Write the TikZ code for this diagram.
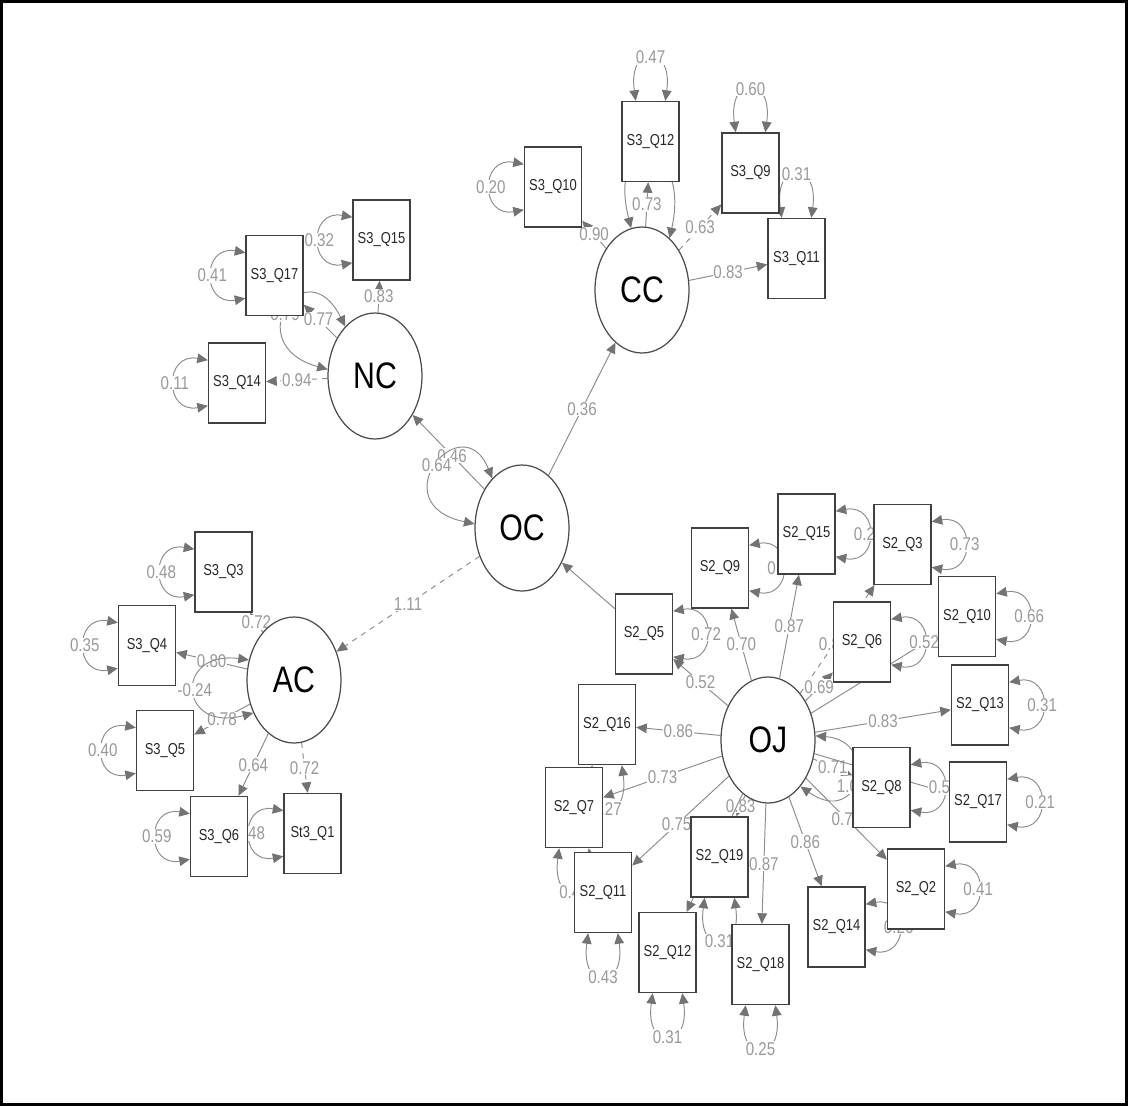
\documentclass[tikz,border=0pt]{standalone}
\usepackage{fontspec}
\setmainfont{Liberation Sans}[FakeStretch=0.82]
\usetikzlibrary{arrows.meta,shapes.geometric}
\pgfdeclarelayer{bg}
\pgfsetlayers{bg,main}
\definecolor{edgegray}{gray}{0.55}
\definecolor{tipgray}{gray}{0.45}
\definecolor{labelgray}{gray}{0.6}
\definecolor{boxgray}{gray}{0.25}
\definecolor{boxtext}{gray}{0.15}
\definecolor{latentgray}{gray}{0.3}
\tikzset{
  latent/.style={draw=latentgray, ellipse, line width=0.7pt, fill=white, minimum width=1.88cm, minimum height=2.52cm, inner sep=1pt, font=\fontsize{21}{22}\selectfont},
  manifest/.style={draw=boxgray, rectangle, line width=0.8pt, fill=white, minimum width=1.14cm, minimum height=1.6cm, inner sep=1pt, text=boxtext, font=\fontsize{9}{10}\selectfont},
  loading/.style={draw=edgegray, line width=0.55pt, -{Triangle[length=6pt,width=5.5pt,color=tipgray]}},
  varloop/.style={draw=edgegray, line width=0.55pt, {Triangle[length=6pt,width=5.5pt,color=tipgray]}-{Triangle[length=6pt,width=5.5pt,color=tipgray]}},
  lbl/.style={fill=white, inner sep=0.5pt, text=labelgray, font=\fontsize{10.5}{11}\selectfont}
}

\begin{document}
\begin{tikzpicture}[x=0.02cm, y=-0.02cm]
  \useasboundingbox (0,0) rectangle (1128,1106);
  \draw[line width=1.2pt] (1.5,1.5) rectangle (1126.5,1104.5);

  % latent factors
  \node[latent] (nc) at (375,376) {NC};
  \node[latent] (cc) at (642,290) {CC};
  \node[latent] (oc) at (522,528) {OC};
  \node[latent] (ac) at (294,680) {AC};
  \node[latent] (oj) at (768,740) {OJ};

  % observed items
  \foreach \n/\x/\y/\t in {s3q17/274.5/275.5/S3\_Q17, s3q15/381.5/240/S3\_Q15, s3q14/237/383/S3\_Q14,
      s3q10/553/187/S3\_Q10, s3q12/650.5/141.5/S3\_Q12, s3q9/750.5/173/S3\_Q9, s3q11/796.5/258.5/S3\_Q11,
      s3q3/223.5/572/S3\_Q3, s3q4/147/645.5/S3\_Q4, s3q5/165/750.5/S3\_Q5, s3q6/219/836.5/S3\_Q6, st3q1/312.5/833.5/St3\_Q1,
      s2q5/644/634/S2\_Q5, s2q9/720/568/S2\_Q9, s2q15/806.5/534/S2\_Q15, s2q3/902.5/544.5/S2\_Q3,
      s2q6/862/642/S2\_Q6, s2q10/967/616.5/S2\_Q10, s2q13/980/705/S2\_Q13, s2q16/607/724.5/S2\_Q16,
      s2q7/574/807.5/S2\_Q7, s2q8/881.5/787.5/S2\_Q8, s2q17/978/802/S2\_Q17, s2q11/603/892.5/S2\_Q11,
      s2q19/719.5/857/S2\_Q19, s2q12/667.5/952.5/S2\_Q12, s2q18/760.5/964.5/S2\_Q18,
      s2q14/836.5/927/S2\_Q14, s2q2/916/889/S2\_Q2}
    \node[manifest] (\n) at (\x,\y) {\t};

  \begin{pgfonlayer}{bg}
    % structural part
    \draw[loading] (oc) -- node[lbl]{0.36} (cc);
    \draw[loading] (oc) -- node[lbl,pos=0.45]{0.46} (nc);
    \draw[loading,dashed] (oc) -- node[lbl]{1.11} (ac);
    \draw[loading] (s2q5) -- (oc);

    % loadings
    \draw[loading] (nc) -- node[lbl]{0.83} (s3q15);
    \draw[loading] (nc) -- node[lbl,pos=0.55]{0.77} (s3q17);
    \draw[loading,dashed] (nc) -- node[lbl]{0.94} (s3q14);
    \draw[loading] (cc) -- node[lbl]{0.90} (s3q10);
    \draw[loading] (cc) -- node[lbl]{0.73} (s3q12);
    \draw[loading,dashed] (cc) -- node[lbl]{0.63} (s3q9);
    \draw[loading] (cc) -- node[lbl]{0.83} (s3q11);
    \draw[loading] (ac) -- node[lbl]{0.72} (s3q3);
    \draw[loading] (ac) -- node[lbl]{0.80} (s3q4);
    \draw[loading] (ac) -- node[lbl]{0.78} (s3q5);
    \draw[loading] (ac) -- node[lbl]{0.64} (s3q6);
    \draw[loading,dashed] (ac) -- node[lbl]{0.72} (st3q1);
    \draw[loading] (oj) -- node[lbl]{0.52} (s2q5);
    \draw[loading] (oj) -- node[lbl]{0.70} (s2q9);
    \draw[loading] (oj) -- node[lbl]{0.87} (s2q15);
    \draw[loading,dashed] (oj) -- node[lbl,pos=0.45]{0.85} (s2q3);
    \draw[loading] (oj) -- node[lbl]{0.69} (s2q6);
    \draw[loading] (oj) -- (s2q10);
    \draw[loading] (oj) -- node[lbl]{0.83} (s2q13);
    \draw[loading] (oj) -- node[lbl]{0.71} (s2q8);
    \draw[loading] (oj) -- (s2q17);
    \draw[loading] (oj) -- node[lbl]{0.76} (s2q2);
    \draw[loading] (oj) -- node[lbl]{0.86} (s2q14);
    \draw[loading] (oj) -- node[lbl]{0.87} (s2q18);
    \draw[loading] (oj) -- node[lbl]{0.83} (s2q19);
    \draw[loading] (oj) -- (s2q12);
    \draw[loading] (oj) -- node[lbl,pos=0.54]{0.75} (s2q11);
    \draw[loading] (oj) -- node[lbl]{0.73} (s2q7);
    \draw[loading] (oj) -- node[lbl]{0.86} (s2q16);

    % residual variances of the factors
    \draw[varloop] (nc.121) .. controls +(-40,-80) and +(-90,-25) .. node[lbl,pos=0.55]{0.79} (nc.172);
    \draw[varloop] (cc.100) .. controls +(-25,-100) and +(22,-100) .. node[lbl]{0.87} (cc.62);
    \draw[varloop] (oc.121) .. controls +(-30,-75) and +(-95,-20) .. node[lbl]{0.64} (oc.175);
    \draw[varloop] (ac.156) .. controls +(-75,-10) and +(-75,20) .. node[lbl]{-0.24} (ac.219);
    \draw[varloop] (oj.5) .. controls +(65,5) and +(60,42) .. node[lbl,pos=0.58]{1.00} (oj.-55);

    % residual variances of the items
    \foreach \n/\v in {s3q17/0.41, s3q15/0.32, s3q14/0.11, s3q10/0.20, s3q3/0.48, s3q4/0.35,
        s3q5/0.40, s3q6/0.59, st3q1/0.48}
      \draw[varloop] (\n.142) .. controls +(-44,-8) and +(-44,8) .. node[lbl]{\v} (\n.218);
    \foreach \n/\v in {s3q12/0.47, s3q9/0.60, s3q11/0.31}
      \draw[varloop] (\n.110) .. controls +(-8,-58) and +(8,-58) .. node[lbl]{\v} (\n.70);
    \foreach \n/\v in {s2q5/0.72, s2q9/0.53, s2q15/0.24, s2q3/0.73, s2q6/0.52, s2q10/0.66,
        s2q13/0.31, s2q8/0.50, s2q17/0.21, s2q2/0.41, s2q14/0.26}
      \draw[varloop] (\n.38) .. controls +(44,-8) and +(44,8) .. node[lbl]{\v} (\n.-38);
    \foreach \n/\v in {s2q16/0.27, s2q7/0.47, s2q11/0.43, s2q19/0.31, s2q12/0.31, s2q18/0.25}
      \draw[varloop] (\n.250) .. controls +(-8,58) and +(8,58) .. node[lbl]{\v} (\n.290);
  \end{pgfonlayer}
\end{tikzpicture}
\end{document}
